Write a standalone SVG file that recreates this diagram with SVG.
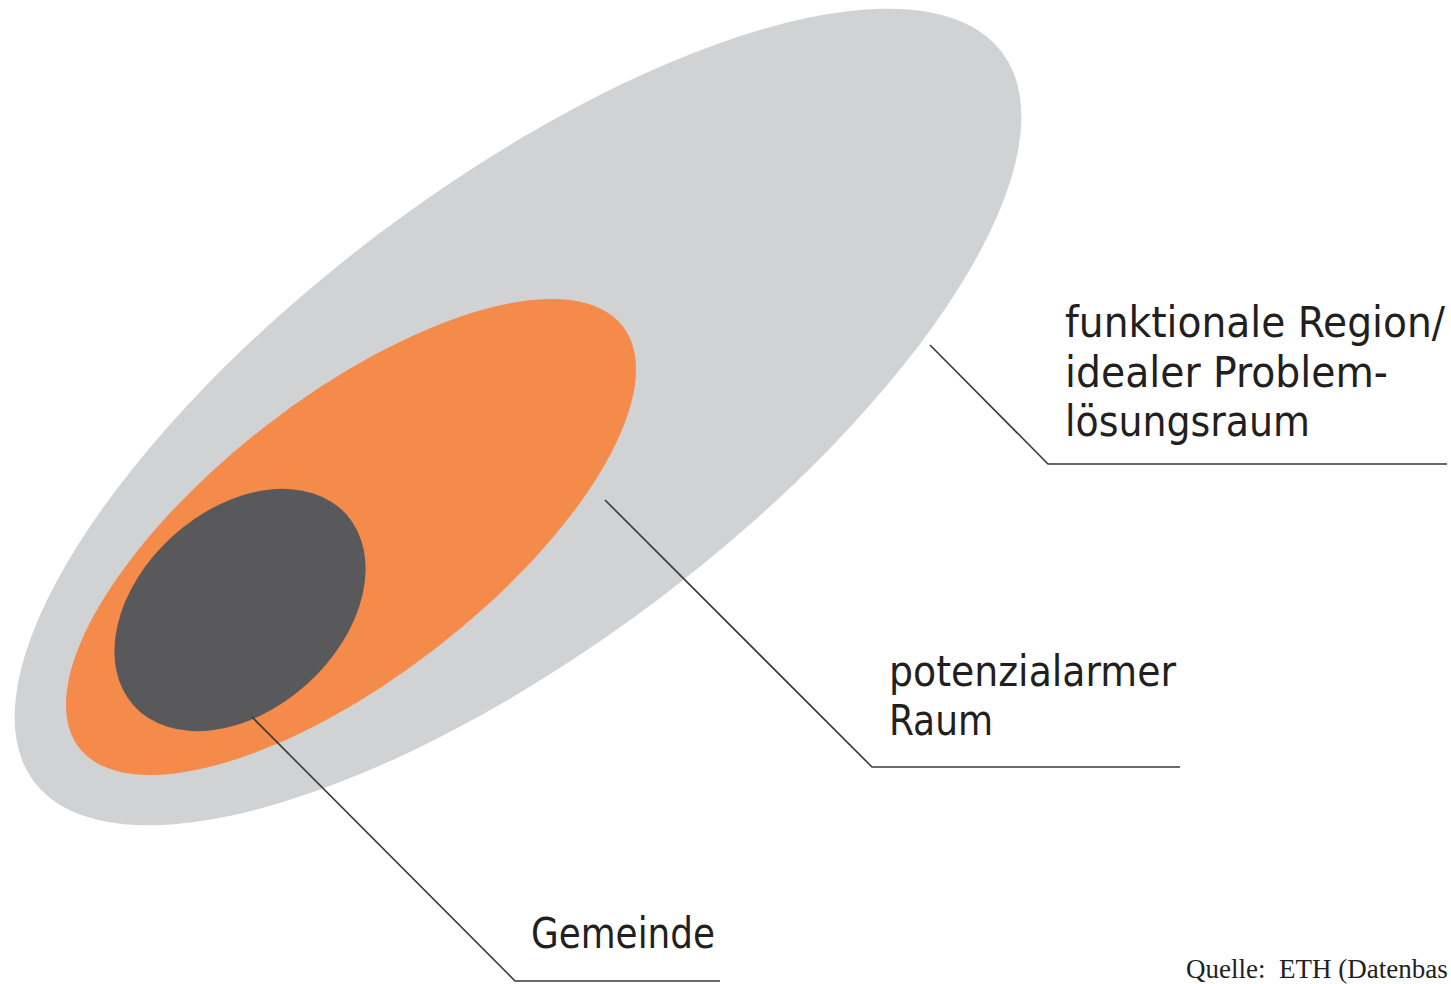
<svg xmlns="http://www.w3.org/2000/svg" width="1451" height="984" viewBox="0 0 1451 984">
<style>
.lbl{font-family:"DejaVu Sans Condensed","Roboto","Liberation Sans Narrow",sans-serif;font-size:42px;fill:#231f20}
.src{font-family:"Liberation Serif",serif;font-size:27px;fill:#231f20}
.ln{fill:none;stroke:#3a3a3a;stroke-width:1.6}
</style>
<rect width="1451" height="984" fill="#ffffff"/>
<g id="region">
<ellipse cx="518" cy="417" rx="606" ry="230" transform="rotate(-37 518 417)" fill="#d1d2d4"/>
</g>
<g id="potenzial">
<ellipse cx="351" cy="537" rx="344" ry="140" transform="rotate(-37.8 351 537)" fill="#f48b4a"/>
</g>
<g id="gemeinde">
<ellipse cx="240" cy="610" rx="143" ry="100" transform="rotate(-42 240 610)" fill="#59595b"/>
</g>
<g id="connectors">
<polyline class="ln" points="930,345 1048,464 1447,464"/>
<polyline class="ln" points="605,500 872,767 1180,767"/>
<polyline class="ln" points="252,717 515,981 720,981"/>
</g>
<g id="labels">
<text class="lbl" x="1065" y="337" textLength="380" lengthAdjust="spacingAndGlyphs">funktionale Region/</text>
<text class="lbl" x="1065" y="387" textLength="323" lengthAdjust="spacingAndGlyphs">idealer Problem-</text>
<text class="lbl" x="1065" y="436" textLength="245" lengthAdjust="spacingAndGlyphs">lösungsraum</text>
<text class="lbl" x="889" y="686" textLength="287" lengthAdjust="spacingAndGlyphs">potenzialarmer</text>
<text class="lbl" x="889" y="735" textLength="104" lengthAdjust="spacingAndGlyphs">Raum</text>
<text class="lbl" x="531" y="948" textLength="184" lengthAdjust="spacingAndGlyphs">Gemeinde</text>
<text class="src" x="1186" y="978" xml:space="preserve">Quelle:  ETH (Datenbas</text>
</g>
</svg>
